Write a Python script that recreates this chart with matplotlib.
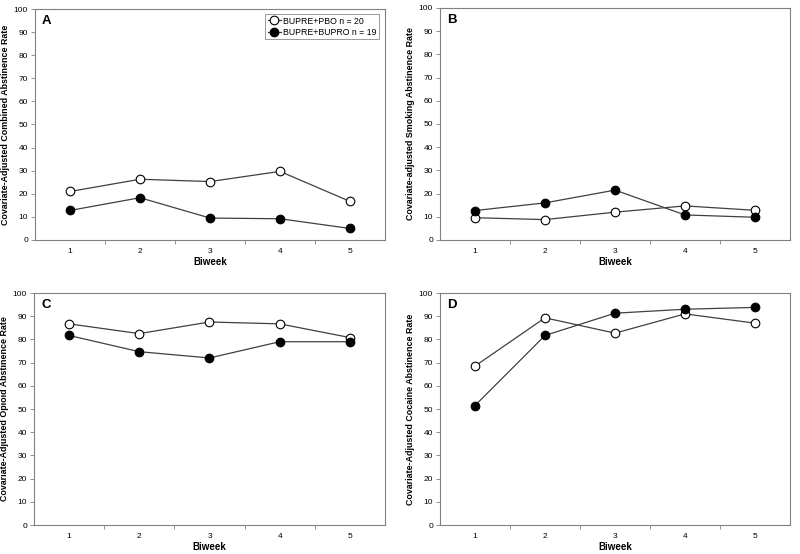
import matplotlib
matplotlib.use('Agg')
import matplotlib.pyplot as plt
import numpy as np

plt.rcParams['font.family'] = ['Liberation Sans', 'DejaVu Sans']

biweek = [1, 2, 3, 4, 5]
labels = ['BUPRE+PBO n = 20', 'BUPRE+BUPRO n = 19']

# panel A - combined
comb_pbo = [21.0, 26.3, 25.3, 29.7, 16.7]
comb_bupro = [12.8, 18.3, 9.5, 9.2, 5.0]
# panel B - smoking
smok_pbo = [9.6, 8.8, 12.0, 14.7, 12.8]
smok_bupro = [12.7, 16.0, 21.5, 10.8, 9.8]
# panel C - opioid
opi_pbo = [86.7, 82.5, 87.5, 86.7, 80.8]
opi_bupro = [81.7, 74.7, 72.0, 79.0, 79.0]
# panel D - cocaine
coc_pbo = [68.5, 89.3, 82.7, 91.0, 87.0]
coc_bupro = [51.5, 81.7, 91.3, 93.0, 93.8]

panels = [
    ('A', 'Covariate-Adjusted Combined Abstinence Rate', comb_pbo, comb_bupro),
    ('B', 'Covariate-adjusted Smoking Abstinence Rate', smok_pbo, smok_bupro),
    ('C', 'Covariate-Adjusted Opioid Abstinence Rate', opi_pbo, opi_bupro),
    ('D', 'Covariate-Adjusted Cocaine Abstinence Rate', coc_pbo, coc_bupro),
]

# axes positions in pixels (left, top, right, bottom) on an 800x554 canvas
boxes = [(35, 9, 385, 240), (440, 8, 790, 240), (34, 293, 385, 525), (440, 293, 790, 525)]

W, H = 800, 554
fig = plt.figure(figsize=(8, 5.54), dpi=100)

for (letter, ylab, pbo, bupro), (l, t, r, b) in zip(panels, boxes):
    ax = fig.add_axes([l / W, 1 - b / H, (r - l) / W, (b - t) / H])
    ax.plot(biweek, pbo, '-o', color='#404040', lw=0.9, mfc='white', mec='black',
            mew=0.8, ms=6.2, label=labels[0], zorder=3)
    ax.plot(biweek, bupro, '-o', color='#404040', lw=0.9, mfc='black', mec='black',
            mew=0.8, ms=6.2, label=labels[1], zorder=3)
    ax.set_xlim(0.5, 5.5)
    ax.set_ylim(0, 100)
    ax.set_yticks(np.arange(0, 101, 10))
    # tick marks sit between the biweeks, labels under the biweeks
    ax.set_xticks([1.5, 2.5, 3.5, 4.5])
    ax.set_xticklabels([])
    ax.set_xticks(biweek, minor=True)
    ax.set_xticklabels([str(v) for v in biweek], minor=True)
    ax.tick_params(axis='x', which='minor', length=0, labelsize=6, pad=6)
    ax.tick_params(axis='x', which='major', length=3, width=0.6, color='#808080')
    ax.tick_params(axis='y', length=3, width=0.6, labelsize=6, color='#808080', pad=2)
    for sp in ax.spines.values():
        sp.set_color('#808080')
        sp.set_linewidth(0.8)
    ax.set_xlabel('Biweek', fontsize=7, fontweight='bold', labelpad=1)
    ax.set_ylabel(ylab, fontsize=6.4, fontweight='bold', labelpad=3)
    ax.text(0.02, 0.975, letter, transform=ax.transAxes, fontsize=9.5,
            fontweight='bold', va='top', ha='left')
    if letter == 'A':
        leg = ax.legend(loc='upper right', fontsize=6.3, frameon=True, fancybox=False,
                        handlelength=1.5, handletextpad=0.2, borderpad=0.3,
                        labelspacing=0.25, borderaxespad=0.3,
                        bbox_to_anchor=(0.99, 0.99))
        leg.get_frame().set_edgecolor('#808080')
        leg.get_frame().set_linewidth(0.7)

fig.savefig('out.png', dpi=100)
